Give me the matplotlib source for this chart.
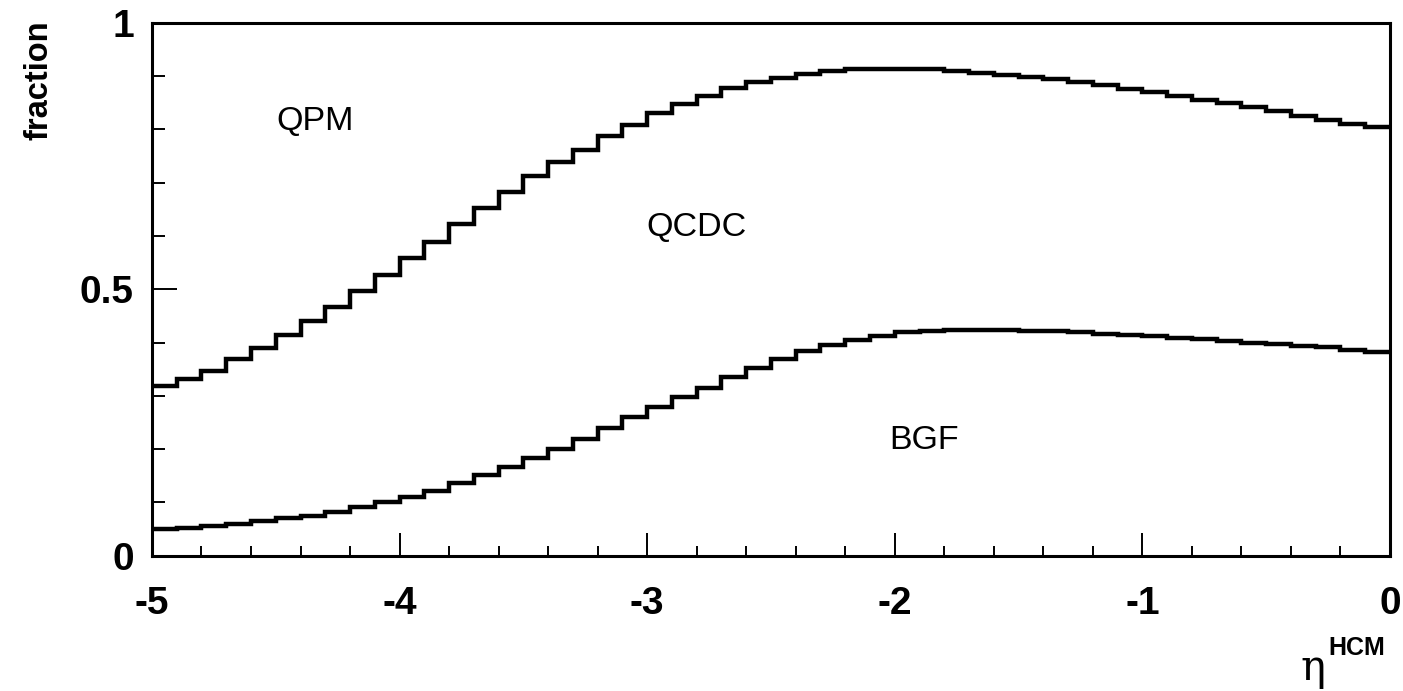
import numpy as np
import matplotlib.pyplot as plt

# bin edges in eta^HCM and the stacked fractions
eta_edges = np.linspace(-5, 0, 51)

# BGF fraction (lower curve)
bgf = [0.050, 0.053, 0.055, 0.060, 0.065, 0.070, 0.075, 0.083, 0.091, 0.100,
       0.110, 0.122, 0.136, 0.151, 0.167, 0.183, 0.201, 0.220, 0.240, 0.260,
       0.279, 0.297, 0.315, 0.336, 0.353, 0.369, 0.384, 0.396, 0.405, 0.412,
       0.419, 0.422, 0.423, 0.423, 0.423, 0.422, 0.421, 0.419, 0.417, 0.415,
       0.412, 0.409, 0.406, 0.403, 0.400, 0.397, 0.394, 0.391, 0.387, 0.383]

# BGF + QCDC (upper curve)
bgf_qcdc = [0.319, 0.331, 0.347, 0.369, 0.390, 0.414, 0.440, 0.467, 0.496, 0.526,
            0.558, 0.589, 0.622, 0.653, 0.683, 0.713, 0.739, 0.761, 0.788, 0.808,
            0.830, 0.847, 0.863, 0.877, 0.888, 0.897, 0.904, 0.910, 0.913, 0.914,
            0.914, 0.913, 0.910, 0.906, 0.903, 0.899, 0.894, 0.889, 0.884, 0.876,
            0.870, 0.863, 0.856, 0.849, 0.842, 0.834, 0.826, 0.818, 0.811, 0.805]

labels = ["QPM", "QCDC", "BGF"]
label_x = [-4.34, -2.80, -1.88]
label_y = [0.814, 0.615, 0.217]

plt.rcParams["font.family"] = ["Liberation Sans", "DejaVu Sans"]

fig = plt.figure(figsize=(14.03, 6.91), dpi=100)
ax = fig.add_axes([0.1083, 0.1957, 0.8824, 0.7713])

ax.stairs(bgf_qcdc, eta_edges, color="black", linewidth=3.2, baseline=None)
ax.stairs(bgf, eta_edges, color="black", linewidth=3.2, baseline=None)

for t, x, y in zip(labels, label_x, label_y):
    ax.text(x, y, t, fontsize=24.5, ha="center", va="center")

ax.set_xlim(-5, 0)
ax.set_ylim(0, 1)

ax.set_xticks([-5, -4, -3, -2, -1, 0])
ax.set_xticklabels(["-5", "-4", "-3", "-2", "-1", "0"])
ax.set_xticks(np.arange(-5, 0.01, 0.2), minor=True)
ax.set_yticks([0, 0.5, 1])
ax.set_yticklabels(["0", "0.5", "1"])
ax.set_yticks(np.arange(0, 1.01, 0.1), minor=True)

# tick lengths in points (reference ~23/10 px on x, ~25/13 px on y)
ax.tick_params(axis="both", which="both", direction="in", top=False, right=False,
               width=1.4, labelsize=28)
ax.tick_params(axis="x", which="major", length=16.5, pad=22)
ax.tick_params(axis="x", which="minor", length=7.2)
ax.tick_params(axis="y", which="major", length=18, pad=13)
ax.tick_params(axis="y", which="minor", length=9.4)
for lab in ax.get_xticklabels() + ax.get_yticklabels():
    lab.set_fontweight("bold")

for s in ax.spines.values():
    s.set_linewidth(2.2)

fig.text(0.028, 0.884, "fraction", rotation=90, fontsize=23.5, fontweight="bold",
         ha="center", va="center")
fig.text(0.936, 0.016, "η", fontsize=30, family="DejaVu Serif", ha="center",
         va="baseline")
fig.text(0.9465, 0.052, "HCM", fontsize=18, fontweight="bold", ha="left",
         va="baseline")

fig.savefig("out.png", dpi=100)
